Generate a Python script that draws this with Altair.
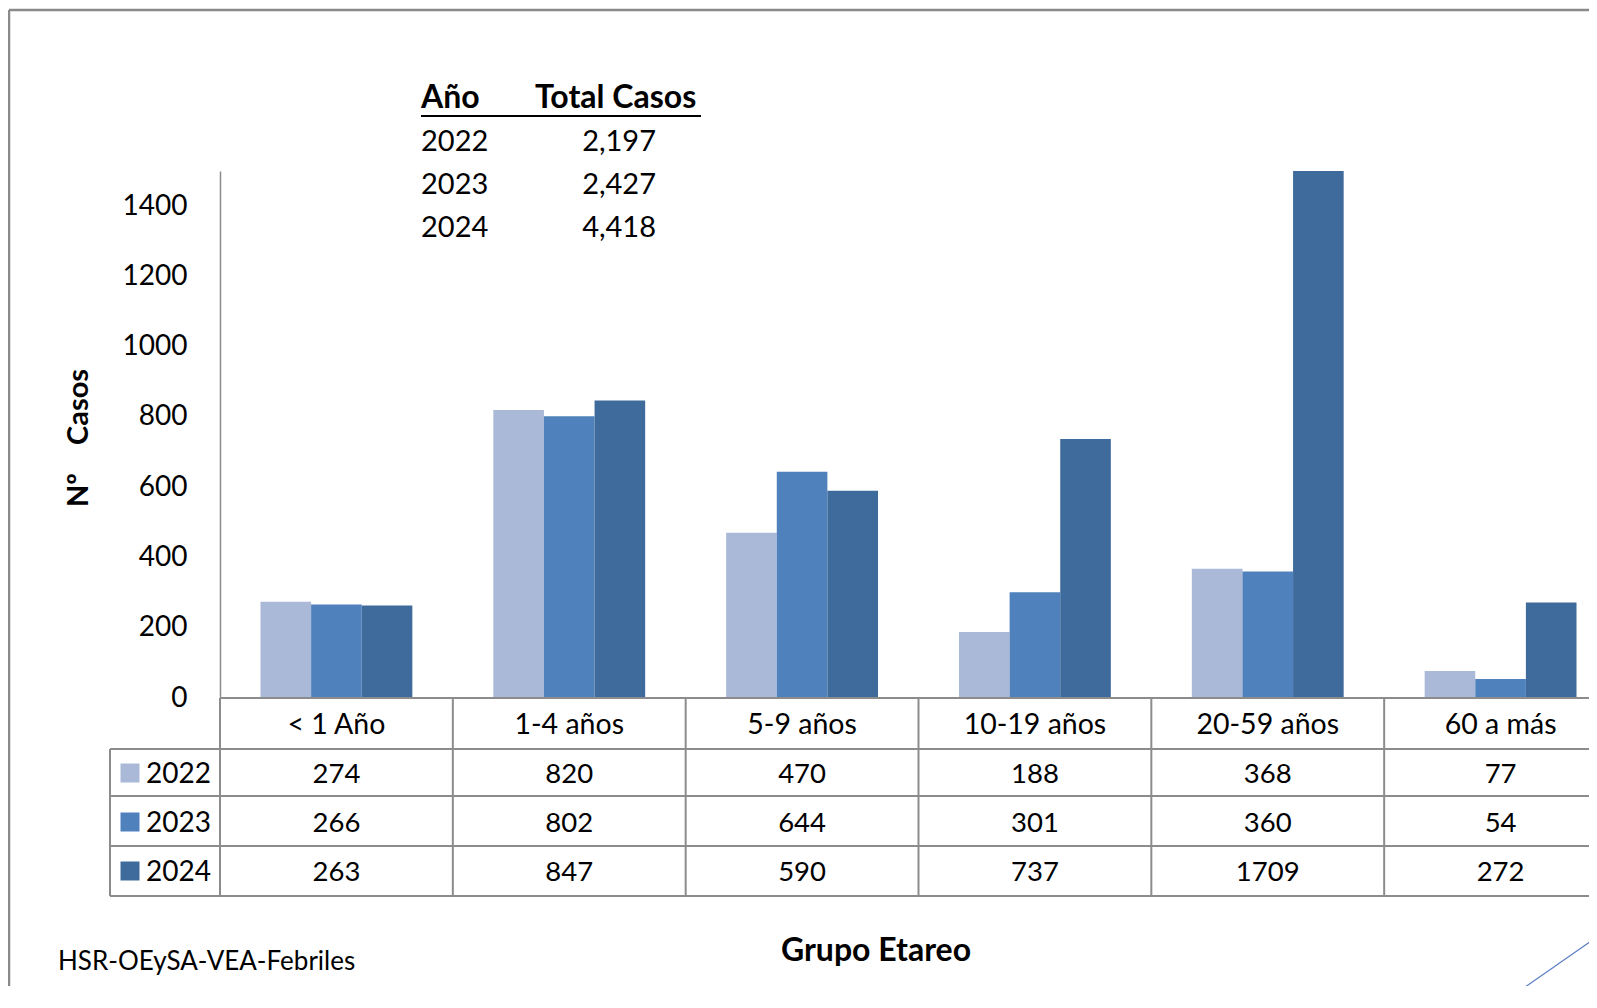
import altair as alt
import pandas as pd

# ---------------- data ----------------
grupos = ["< 1 Año", "1-4 años", "5-9 años", "10-19 años", "20-59 años", "60 a más"]
anios = ["2022", "2023", "2024"]
casos_2022 = [274, 820, 470, 188, 368, 77]
casos_2023 = [266, 802, 644, 301, 360, 54]
casos_2024 = [263, 847, 590, 737, 1709, 272]
totales = ["2,197", "2,427", "4,418"]
y_ticks = [0, 200, 400, 600, 800, 1000, 1200, 1400]
colores = ["#AAB9D7", "#4F81BD", "#3F6B9C"]

series = {"2022": casos_2022, "2023": casos_2023, "2024": casos_2024}
rows = []
for a in anios:
    for g, v in zip(grupos, series[a]):
        rows.append({"Grupo": g, "Año": a, "Casos": v})
df = pd.DataFrame(rows)
df_grupos = pd.DataFrame({"Grupo": grupos})
one = pd.DataFrame({"k": [0]})

# ---------------- layout (view pixels) ----------------
FONT = "Lato"
W, H = 1369, 527
X_RANGE = [0, 1397]
GRID = "#8C8C8C"

x_enc = alt.X("Grupo:N", sort=grupos, axis=None,
              scale=alt.Scale(domain=grupos, range=X_RANGE, paddingInner=0, paddingOuter=0))

bars = alt.Chart(df).mark_bar(clip=True).encode(
    x=x_enc,
    xOffset=alt.XOffset("Año:N", sort=anios,
                        scale=alt.Scale(domain=anios, paddingInner=0, paddingOuter=0.8)),
    y=alt.Y("Casos:Q",
            scale=alt.Scale(domain=[0, 1500], nice=False),
            axis=alt.Axis(values=y_ticks, format="d", grid=False, ticks=False, labelPadding=33,
                          labelFont=FONT, labelFontSize=28, labelColor="black",
                          domainColor=GRID, domainWidth=1.5, title=None)),
    color=alt.Color("Año:N", scale=alt.Scale(domain=anios, range=colores), legend=None),
)


def hrule(x1, x2, y, color=GRID, w=2):
    return alt.Chart(one).mark_rule(color=color, strokeWidth=w).encode(
        x=alt.value(x1), x2=alt.value(x2), y=alt.value(y))


def vrule(x, y1, y2, color=GRID, w=2):
    return alt.Chart(one).mark_rule(color=color, strokeWidth=w).encode(
        x=alt.value(x), y=alt.value(y1), y2=alt.value(y2))


def label(txt, x, y, size=27, bold=False, align="left", angle=0):
    kw = dict(text=txt, font=FONT, fontSize=size, align=align, baseline="middle",
              color="black", fontWeight="bold" if bold else "normal")
    if angle:
        kw["angle"] = angle
    return alt.Chart(one).mark_text(**kw).encode(x=alt.value(x), y=alt.value(y))


layers = [bars]

# data table grid
layers.append(hrule(0, W, 527))
for yy in [578, 625, 675, 725]:
    layers.append(hrule(-110, W, yy))
layers.append(vrule(-110, 578, 725))
layers.append(
    alt.Chart(df_grupos).mark_rule(color=GRID, strokeWidth=2).encode(
        x=alt.X("Grupo:N", sort=grupos, bandPosition=0), y=alt.value(527), y2=alt.value(725))
)

# header row (categories)
layers.append(
    alt.Chart(df_grupos).mark_text(font=FONT, fontSize=28.5, color="black", baseline="middle").encode(
        x=alt.X("Grupo:N", sort=grupos, bandPosition=0.5), y=alt.value(554), text="Grupo:N")
)

row_y = {"2022": 604, "2023": 653, "2024": 702}
for a, c in zip(anios, colores):
    sub = df[df["Año"] == a]
    layers.append(
        alt.Chart(sub).mark_text(font=FONT, fontSize=27.5, color="black", baseline="middle").encode(
            x=alt.X("Grupo:N", sort=grupos, bandPosition=0.5), y=alt.value(row_y[a]),
            text="Casos:Q")
    )
    layers.append(
        alt.Chart(one).mark_square(size=361, color=c, opacity=1).encode(
            x=alt.value(-90), y=alt.value(row_y[a] - 2))
    )
    layers.append(label(a, -74, row_y[a], size=28))

# totals box
layers.append(label("Año", 201, -73, size=32, bold=True))
layers.append(label("Total Casos", 315, -73, size=32, bold=True))
layers.append(hrule(201, 481, -55, color="black", w=2))
for a, t, yy in zip(anios, totales, [-29, 14, 57]):
    layers.append(label(a, 201, yy, size=29))
    layers.append(label(t, 436, yy, size=29, align="right"))

# titles / notes
layers.append(label("Nº\u00a0\u00a0\u00a0\u00a0Casos", -141, 267, size=29, bold=True,
                    align="center", angle=270))
layers.append(label("Grupo Etareo", 656, 780, size=32, bold=True, align="center"))
layers.append(label("HSR-OEySA-VEA-Febriles", -162, 791, size=26))

# outer frame and decoration
layers.append(hrule(-211, W, -161, color="#8A8A8A", w=2.5))
layers.append(vrule(-211, -161, 837, color="#8A8A8A", w=2.5))
layers.append(
    alt.Chart(one).mark_rule(color="#5B7DC4", strokeWidth=1.2).encode(
        x=alt.value(1275), y=alt.value(837), x2=alt.value(1377), y2=alt.value(766))
)

chart = alt.layer(*layers).properties(
    width=W, height=H,
    autosize=alt.AutoSizeParams(type="none"),
    padding={"left": 212, "top": 163, "right": 0, "bottom": 288},
    background="white",
).configure_view(stroke=None)

chart.save("out.html", embed_options={"renderer": "svg", "actions": False})
